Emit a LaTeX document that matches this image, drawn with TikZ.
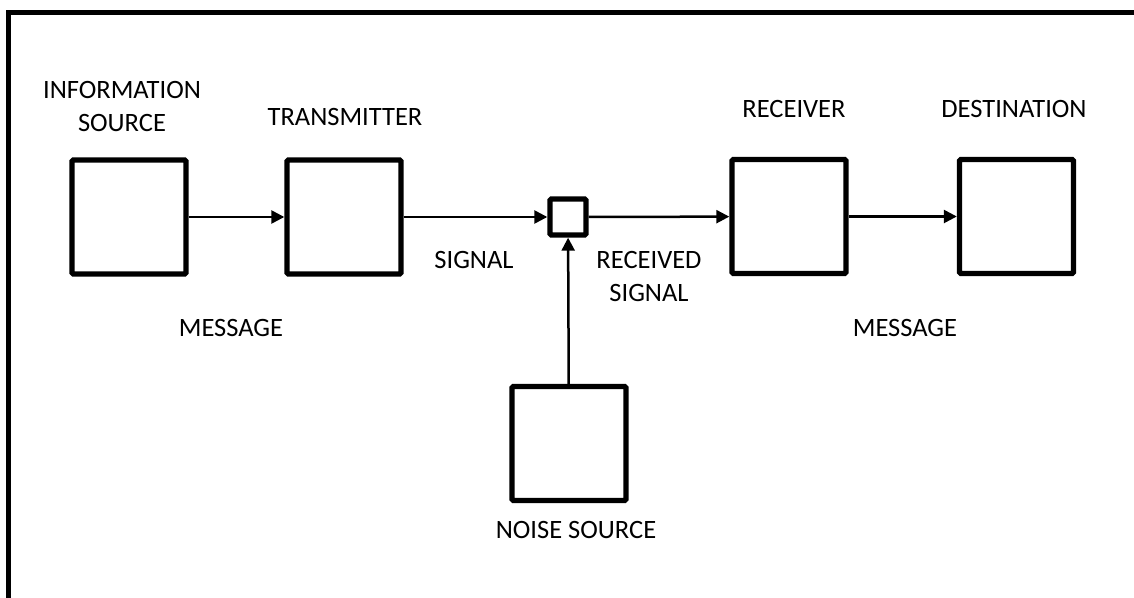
\documentclass[tikz,border=0pt]{standalone}
\usepackage{fontspec}
\setmainfont{Carlito}
\usetikzlibrary{arrows.meta}
\begin{document}
\begin{tikzpicture}[x=1pt,y=-1pt,
  blockbox/.style={draw, line width=5.4pt, rounded corners=1.5pt, minimum width=114pt, minimum height=114pt, inner sep=0pt, fill=white},
  sumbox/.style={draw, line width=5.4pt, rounded corners=1.5pt, minimum width=36pt, minimum height=36pt, inner sep=0pt, fill=white},
  flow/.style={line width=2.5pt, -{Triangle[length=13pt,width=13pt]}},
  lbl/.style={font=\fontsize{26.5}{33}\selectfont, align=center, inner sep=0pt, anchor=base}
]
\useasboundingbox (0,0) rectangle (1134,597);
\begin{scope}
\clip (0,0) rectangle (1134,597);
\draw[line width=5.5pt] (8.5,640) -- (8.5,12.7) -- (1160,12.7);
\end{scope}

\node[blockbox] (src) at (129,217) {};
\node[blockbox] (tx) at (344,217) {};
\node[sumbox] (mix) at (568,217) {};
\node[blockbox] (rx) at (789,216.5) {};
\node[blockbox] (dst) at (1016.5,216.5) {};
\node[blockbox] (noise) at (569,443.5) {};

\draw[flow] (src) -- (tx);
\draw[flow] (tx) -- (mix);
\draw[flow] (mix) -- (rx);
\draw[flow] (rx) -- (dst);
\draw[flow] (noise) -- (mix);

\node[lbl] (lsrc) at (122,131) {INFORMATION\\SOURCE};
\node[lbl] (ltx) at (345,125) {TRANSMITTER};
\node[lbl] (lrx) at (794,117) {RECEIVER};
\node[lbl] (ldst) at (1014,117) {DESTINATION};
\node[lbl] (lsig) at (474,268) {SIGNAL};
\node[lbl] (lrsig) at (649,301) {RECEIVED\\SIGNAL};
\node[lbl] (lmsg1) at (231,336) {MESSAGE};
\node[lbl] (lmsg2) at (905,336) {MESSAGE};
\node[lbl] (lnoise) at (576,538) {NOISE SOURCE};
\end{tikzpicture}
\end{document}
